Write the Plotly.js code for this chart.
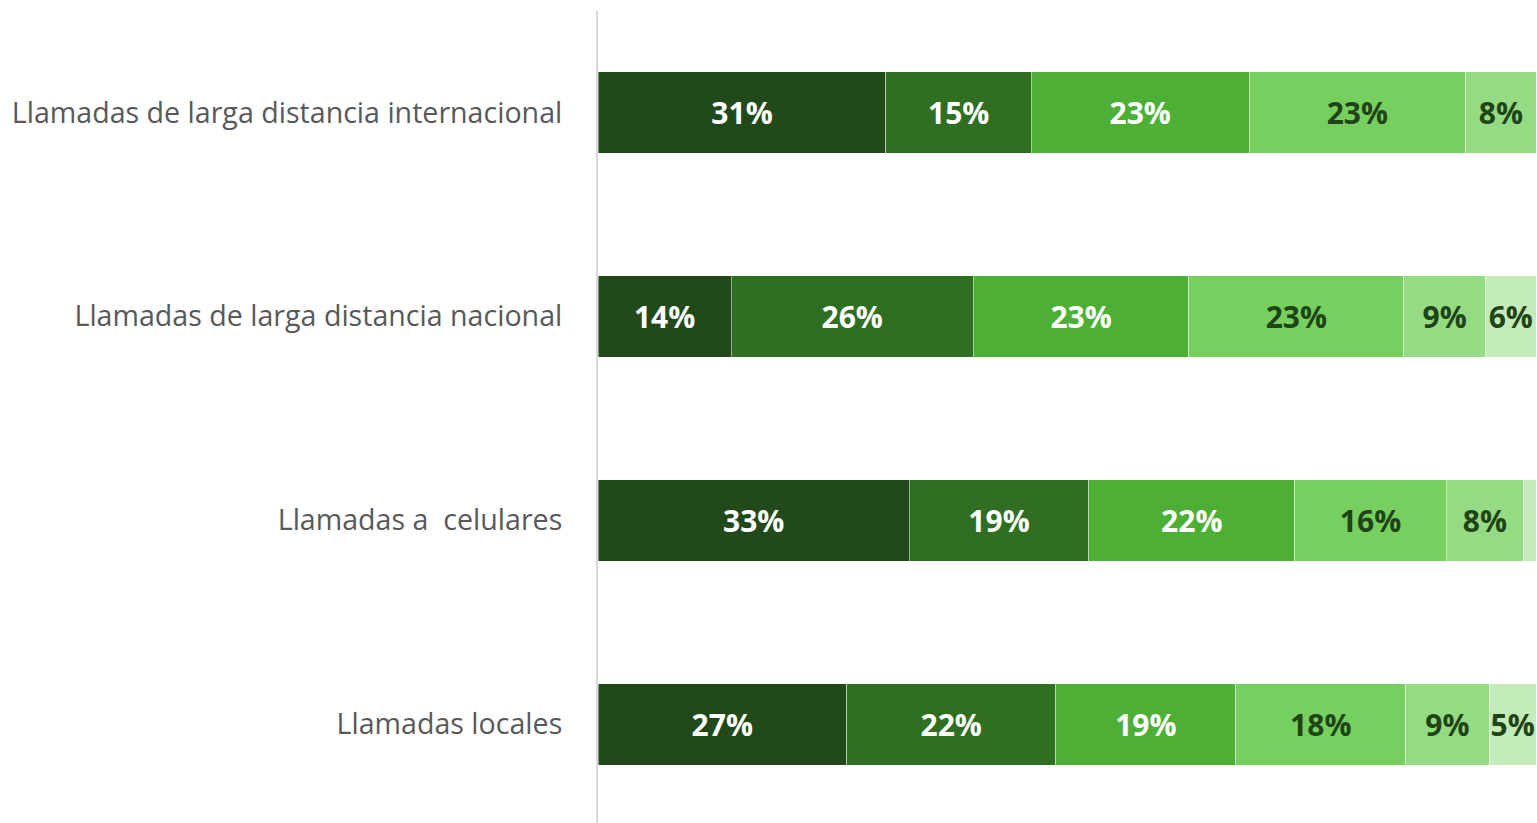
<!DOCTYPE html>
<html>
<head>
<meta charset="utf-8">
<script src="https://cdn.plot.ly/plotly-3.0.1.min.js"></script>
<style>html,body{margin:0;padding:0;background:#fff;}#chart{width:1537px;height:823px;}</style>
</head>
<body>
<div id="chart"></div>
<script>
var categories = ['Llamadas de larga distancia internacional', 'Llamadas de larga distancia nacional', 'Llamadas a\u00a0 celulares', 'Llamadas locales'];

var serie1 = [30.7, 14.2, 33.2, 26.5];
var serie2 = [15.5, 25.8, 19.1, 22.3];
var serie3 = [23.2, 23.0, 22.0, 19.2];
var serie4 = [23.1, 22.9, 16.1, 18.1];
var serie5 = [7.5, 8.7, 8.3, 8.9];
var serie6 = [0, 5.4, 1.3, 5.0];

var labels1 = ['31%', '14%', '33%', '27%'];
var labels2 = ['15%', '26%', '19%', '22%'];
var labels3 = ['23%', '23%', '22%', '19%'];
var labels4 = ['23%', '23%', '16%', '18%'];
var labels5 = ['8%', '9%', '8%', '9%'];
var labels6 = ['', '6%', '', '5%'];

var seriesValues = [serie1, serie2, serie3, serie4, serie5, serie6];
var seriesLabels = [labels1, labels2, labels3, labels4, labels5, labels6];
var colors = ['#22491A', '#306E22', '#4DAF35', '#77CF60', '#94DB83', '#C4EBBA'];
var textColors = ['#ffffff', '#ffffff', '#ffffff', '#1F4416', '#1F4416', '#1F4416'];

var traces = seriesValues.map(function (vals, i) {
  return {
    type: 'bar',
    orientation: 'h',
    y: categories,
    x: vals,
    text: seriesLabels[i],
    textposition: 'inside',
    insidetextanchor: 'middle',
    textangle: 0,
    constraintext: 'none',
    insidetextfont: {family: 'Open Sans, sans-serif', size: 30, color: textColors[i], weight: 'bold'},
    marker: {color: colors[i], line: {color: 'rgba(255,255,255,0.45)', width: 1}},
    hoverinfo: 'none',
    showlegend: false,
    cliponaxis: true
  };
});

var layout = {
  width: 1537,
  height: 823,
  barmode: 'stack',
  bargap: 0.6,
  margin: {l: 598, r: 0, t: 11, b: 0, pad: 0},
  paper_bgcolor: '#ffffff',
  plot_bgcolor: '#ffffff',
  xaxis: {range: [0, 100.1], visible: false, showgrid: false, zeroline: false, fixedrange: true},
  yaxis: {
    type: 'category',
    range: [3.483, -0.4975],
    showline: true,
    linecolor: '#d9d9d9',
    linewidth: 2,
    showgrid: false,
    zeroline: false,
    ticks: '',
    ticklabelstandoff: 28,
    tickfont: {family: 'Open Sans, sans-serif', size: 28.6, color: '#595959'}
  },
  font: {family: 'Open Sans, sans-serif'}
};

Plotly.newPlot('chart', traces, layout, {displayModeBar: false, staticPlot: true});
</script>
</body>
</html>
